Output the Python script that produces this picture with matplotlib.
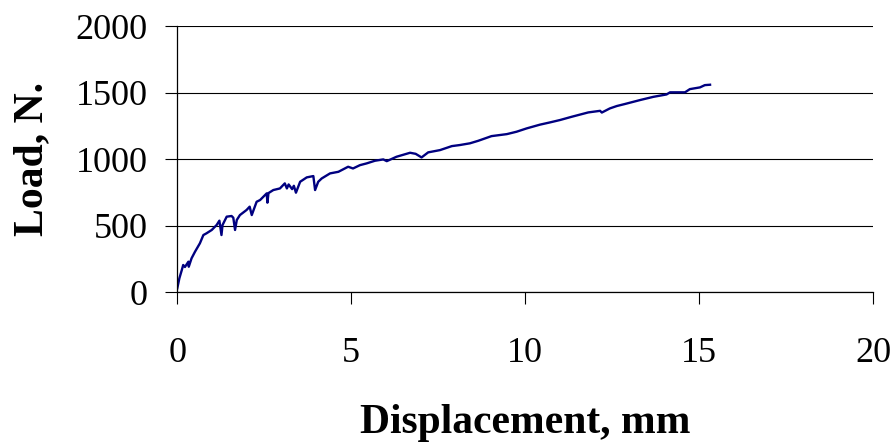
import numpy as np
from matplotlib import pyplot as plt

disp = [0.00, 0.06, 0.13, 0.17, 0.22, 0.32, 0.33, 0.41, 0.51, 0.65, 0.75, 0.84,
        0.99, 1.13, 1.21, 1.27, 1.30, 1.42, 1.56, 1.61, 1.66, 1.71, 1.80, 1.99,
        2.08, 2.14, 2.28, 2.38, 2.57, 2.59, 2.62, 2.76, 2.95, 3.09, 3.15, 3.20,
        3.30, 3.35, 3.41, 3.53, 3.72, 3.91, 3.96, 4.05, 4.15, 4.39, 4.63, 4.91,
        5.05, 5.25, 5.44, 5.68, 5.92, 6.02, 6.30, 6.69, 6.85, 7.02, 7.21, 7.55,
        7.89, 8.12, 8.41, 8.65, 9.03, 9.47, 9.75, 10.04, 10.42, 10.71, 11.00,
        11.33, 11.81, 12.15, 12.20, 12.43, 12.63, 12.86, 13.30, 13.68, 14.06,
        14.16, 14.59, 14.73, 15.02, 15.16, 15.31]
load = [30, 105, 167, 205, 190, 230, 192, 255, 305, 368, 430, 443,
        468, 505, 538, 430, 505, 568, 573, 560, 468, 543, 580, 618,
        643, 580, 680, 693, 743, 673, 745, 768, 780, 818, 780, 810,
        775, 800, 748, 830, 863, 873, 768, 830, 855, 893, 905, 943,
        930, 955, 968, 988, 998, 985, 1018, 1048, 1040, 1013, 1051, 1068,
        1098, 1106, 1119, 1138, 1173, 1188, 1206, 1231, 1259, 1276, 1294,
        1318, 1351, 1363, 1350, 1381, 1399, 1414, 1444, 1468, 1486,
        1502, 1502, 1526, 1539, 1556, 1559]

x_ticks = [0, 5, 10, 15, 20]
y_ticks = [0, 500, 1000, 1500, 2000]

plt.rcParams['font.family'] = 'Liberation Serif'

fig = plt.figure(figsize=(8.94, 4.44), dpi=100)
ax = fig.add_axes([0.1983, 0.3417, 0.7785, 0.5997])

ax.plot(disp, load, color='#000080', linewidth=1.7)

ax.set_xlim(0, 20)
ax.set_ylim(0, 2000)
ax.set_xticks(x_ticks)
ax.set_yticks(y_ticks)
ax.yaxis.grid(True, color='black', linewidth=0.8)
ax.set_axisbelow(True)

for s in ['top', 'right']:
    ax.spines[s].set_visible(False)
for s in ['left', 'bottom']:
    ax.spines[s].set_linewidth(0.9)

ax.tick_params(axis='both', direction='out', length=8.5, width=0.8,
               labelsize=26)
ax.tick_params(axis='y', pad=13)
ax.tick_params(axis='x', pad=24)

ax.set_xlabel('Displacement, mm', fontsize=30, fontweight='bold', labelpad=24)
ax.set_ylabel('Load, N.', fontsize=30, fontweight='bold', labelpad=17)

fig.savefig('out.png', dpi=100)
